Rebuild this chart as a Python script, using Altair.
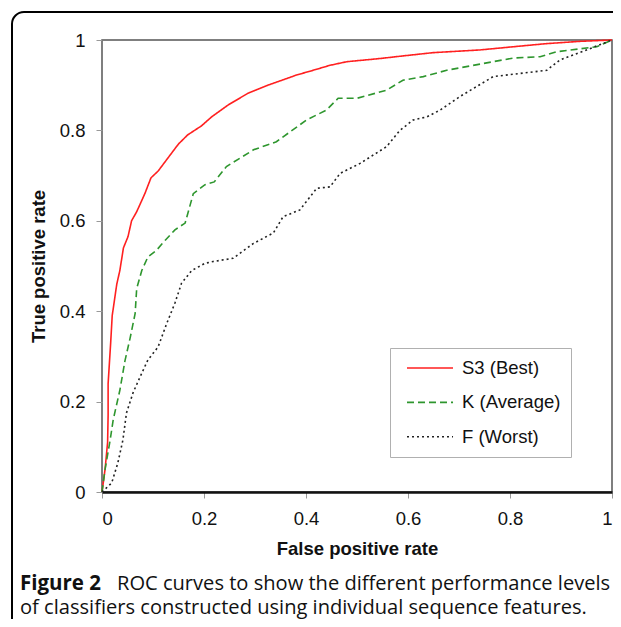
import altair as alt
import pandas as pd

# ---- data ----
names = ["S3 (Best)", "K (Average)", "F (Worst)"]
colors = ["#ff2020", "#2e962e", "#222222"]
dashes = [[1, 0], [7, 4], [2, 3]]

fpr_s3 = [0, 0.006, 0.011, 0.012, 0.012, 0.017, 0.02, 0.029, 0.035, 0.042, 0.051, 0.058, 0.068,
          0.084, 0.096, 0.11, 0.13, 0.15, 0.168, 0.195, 0.215, 0.247, 0.286, 0.325, 0.353, 0.38,
          0.414, 0.447, 0.48, 0.545, 0.584, 0.649, 0.741, 0.806, 0.872, 0.937, 1.0]
tpr_s3 = [0, 0.05, 0.11, 0.17, 0.24, 0.33, 0.39, 0.46, 0.49, 0.54, 0.565, 0.60, 0.62,
          0.66, 0.695, 0.71, 0.74, 0.77, 0.79, 0.81, 0.83, 0.856, 0.882, 0.90, 0.911, 0.922,
          0.933, 0.944, 0.952, 0.959, 0.964, 0.972, 0.978, 0.985, 0.992, 0.997, 1.0]

fpr_k = [0, 0.006, 0.016, 0.022, 0.035, 0.045, 0.055, 0.065, 0.068, 0.078, 0.09, 0.107, 0.124,
         0.143, 0.163, 0.179, 0.202, 0.22, 0.244, 0.297, 0.342, 0.401, 0.44, 0.463, 0.5, 0.558,
         0.59, 0.63, 0.676, 0.767, 0.806, 0.859, 0.891, 0.97, 1.0]
tpr_k = [0, 0.05, 0.115, 0.16, 0.225, 0.29, 0.34, 0.395, 0.45, 0.49, 0.52, 0.535, 0.557,
         0.58, 0.595, 0.66, 0.68, 0.686, 0.72, 0.757, 0.775, 0.823, 0.845, 0.871, 0.871, 0.889,
         0.911, 0.919, 0.933, 0.952, 0.96, 0.963, 0.974, 0.985, 1.0]

fpr_f = [0, 0.019, 0.031, 0.041, 0.048, 0.061, 0.078, 0.09, 0.11, 0.127, 0.143, 0.156, 0.176,
         0.202, 0.218, 0.257, 0.297, 0.336, 0.355, 0.388, 0.421, 0.447, 0.467, 0.506, 0.558,
         0.584, 0.61, 0.637, 0.663, 0.702, 0.767, 0.872, 0.898, 0.95, 1.0]
tpr_f = [0, 0.02, 0.064, 0.115, 0.175, 0.22, 0.263, 0.292, 0.321, 0.373, 0.418, 0.462, 0.49,
         0.506, 0.51, 0.517, 0.55, 0.573, 0.609, 0.624, 0.672, 0.675, 0.705, 0.727, 0.764,
         0.8, 0.823, 0.83, 0.845, 0.875, 0.919, 0.933, 0.956, 0.978, 1.0]

tick_values = [0, 0.2, 0.4, 0.6, 0.8, 1.0]
x_title = "False positive rate"
y_title = "True positive rate"
caption_bold = "Figure 2"
caption_line1 = "ROC curves to show the different performance levels"
caption_line2 = "of classifiers constructed using individual sequence features."

# ---- build table ----
rows = []
for name, xs, ys in zip(names, [fpr_s3, fpr_k, fpr_f], [tpr_s3, tpr_k, tpr_f]):
    for i, (a, b) in enumerate(zip(xs, ys)):
        rows.append({"fpr": a, "tpr": b, "classifier": name, "idx": i})
df = pd.DataFrame(rows)

W, H = 510, 452
AXF = "Liberation Sans"
FS = 18.5

legend = alt.Legend(
    title=None, orient="none", legendX=288, legendY=308, padding=10,
    strokeColor="#b0b0b0", fillColor="white", symbolType="M-0.333,0H4.78",
    symbolSize=324, symbolStrokeWidth=1.6, symbolFillColor="transparent",
    labelFont=AXF, labelFontSize=FS,
    labelColor="#111", labelOffset=42, rowPadding=14.4,
)

lines = alt.Chart(df).mark_line(strokeWidth=1.6).encode(
    x=alt.X("fpr:Q", scale=alt.Scale(domain=[0, 1], nice=False, zero=True),
            axis=alt.Axis(values=tick_values, format="~g", title=x_title,
                          labelFont=AXF, labelFontSize=FS, labelColor="#111",
                          labelPadding=11, tickSize=6, tickColor="#999",
                          domainColor="#111", domainWidth=2.5, grid=False,
                          titleFont=AXF, titleFontSize=FS, titleFontWeight="bold",
                          titleColor="#111", titleX=255, titleY=56,
                          titleBaseline="middle", titleAlign="center")),
    y=alt.Y("tpr:Q", scale=alt.Scale(domain=[0, 1], nice=False),
            axis=alt.Axis(values=tick_values, format="~g", title=y_title,
                          labelFont=AXF, labelFontSize=FS, labelColor="#111",
                          labelPadding=11, tickSize=6, tickColor="#999",
                          domain=False, grid=False,
                          titleFont=AXF, titleFontSize=FS, titleFontWeight="bold",
                          titleColor="#111", titleX=-64, titleY=226, titleAngle=270,
                          titleBaseline="middle", titleAlign="center")),
    color=alt.Color("classifier:N", scale=alt.Scale(domain=names, range=colors), legend=legend),
    strokeDash=alt.StrokeDash("classifier:N", scale=alt.Scale(domain=names, range=dashes), legend=legend),
    order="idx:Q",
)

one = pd.DataFrame({"a": [0]})
frame = alt.Chart(one).mark_rect(
    fill="white", fillOpacity=0, stroke="black", strokeWidth=2, cornerRadius=12
).encode(x=alt.value(-90), x2=alt.value(560), y=alt.value(-28), y2=alt.value(620))

cap_font = "Open Sans"
cap1 = alt.Chart(one).mark_text(align="left", baseline="alphabetic", font=cap_font,
                                fontSize=20.5, fontWeight="bold", color="#111").encode(
    x=alt.value(-82), y=alt.value(550), text=alt.value(caption_bold))
cap2 = alt.Chart(one).mark_text(align="left", baseline="alphabetic", font=cap_font,
                                fontSize=20.1, color="#111").encode(
    x=alt.value(15), y=alt.value(550), text=alt.value(caption_line1))
cap3 = alt.Chart(one).mark_text(align="left", baseline="alphabetic", font=cap_font,
                                fontSize=20.1, color="#111").encode(
    x=alt.value(-82), y=alt.value(574), text=alt.value(caption_line2))

chart = alt.layer(frame, lines, cap1, cap2, cap3).properties(
    width=W, height=H,
    padding={"left": 94, "top": 32, "right": 1, "bottom": 127},
    autosize=alt.AutoSizeParams(type="none"),
).configure_view(stroke="#555", strokeWidth=1.5)

chart.save("out.html", embed_options={"renderer": "svg", "actions": False})
